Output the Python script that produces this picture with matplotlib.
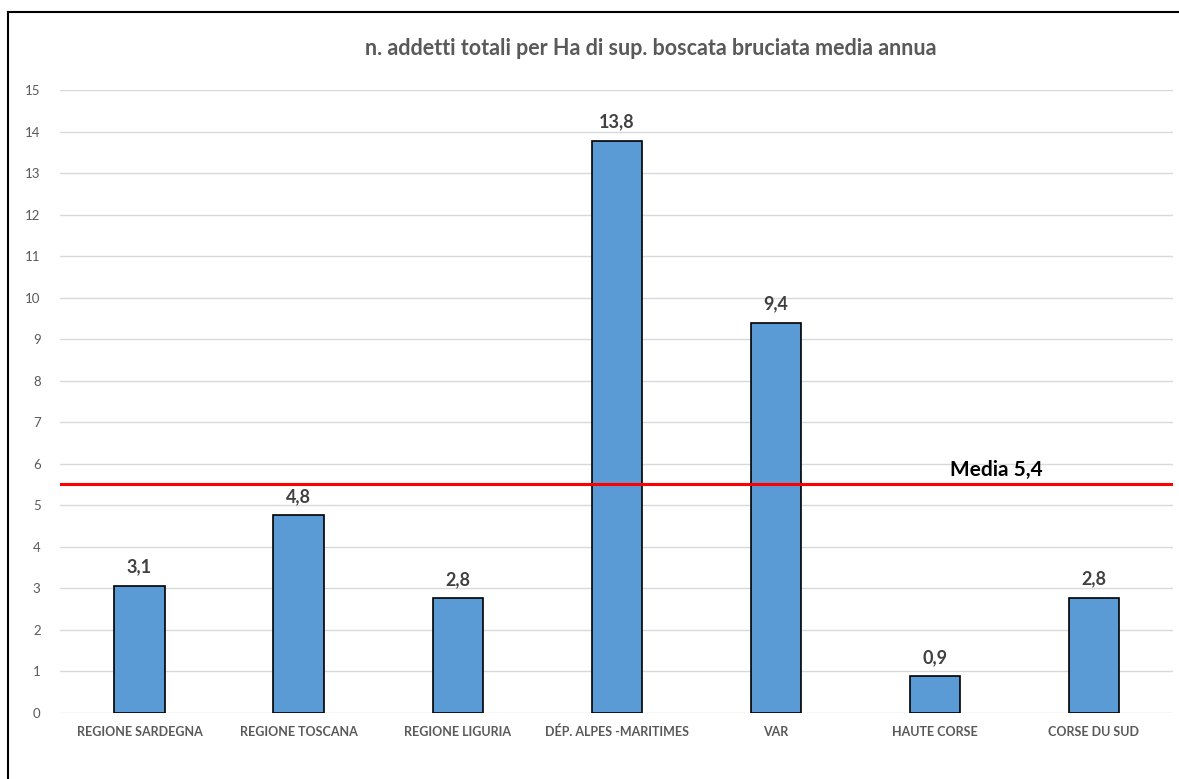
import numpy as np
import matplotlib.pyplot as plt
from matplotlib.lines import Line2D

plt.rcParams['font.family'] = ['Lato', 'DejaVu Sans']

# dati
regioni = ['REGIONE SARDEGNA', 'REGIONE TOSCANA', 'REGIONE LIGURIA',
           'DÉP. ALPES -MARITIMES', 'VAR', 'HAUTE CORSE', 'CORSE DU SUD']
valori = [3.07, 4.76, 2.76, 13.78, 9.40, 0.88, 2.78]
etichette = ['3,1', '4,8', '2,8', '13,8', '9,4', '0,9', '2,8']
media_linea = 5.52
media_testo = 'Media 5,4'

fig = plt.figure(figsize=(11.79, 7.79), dpi=100)
ax = fig.add_axes([0.0509, 0.0847, 0.9441, 0.7998])

x = np.arange(len(regioni))
ax.bar(x, valori, width=0.315, color='#5b9bd5', edgecolor='black', linewidth=1.2, zorder=3)

for xi, v, t in zip(x, valori, etichette):
    ax.text(xi, v + 0.25, t, ha='center', va='bottom', fontsize=13,
            fontweight='bold', color='#404040', zorder=4)

ax.axhline(media_linea, color='#ff0000', linewidth=2.2, zorder=4)
ax.text(5.39, media_linea + 0.1, media_testo, ha='center', va='bottom',
        fontsize=15, fontweight='bold', color='black', zorder=5)

ax.set_xlim(-0.5, len(regioni) - 0.5)
ax.set_ylim(0, 15)
ax.set_yticks(range(0, 16))
ax.set_xticks(x)
ax.set_xticklabels(regioni, fontsize=9, fontweight='bold', color='#595959')
ax.tick_params(axis='y', labelsize=9.5, labelcolor='#595959', length=0, pad=14)
ax.tick_params(axis='x', length=0, pad=9)
ax.grid(axis='y', color='#d9d9d9', linewidth=1, zorder=0)
for s in ax.spines.values():
    s.set_visible(False)

fig.text(0.552, 0.938, 'n. addetti totali per Ha di sup. boscata bruciata media annua',
         ha='center', va='center', fontsize=15.5, fontweight='bold', color='#595959')

# cornice
fig.add_artist(Line2D([8 / 1179, 8 / 1179], [0, 1 - 12 / 779], color='black',
                      linewidth=1.5, transform=fig.transFigure))
fig.add_artist(Line2D([8 / 1179, 1], [1 - 12 / 779, 1 - 12 / 779], color='black',
                      linewidth=1.5, transform=fig.transFigure))

fig.savefig('out.png', dpi=100)
